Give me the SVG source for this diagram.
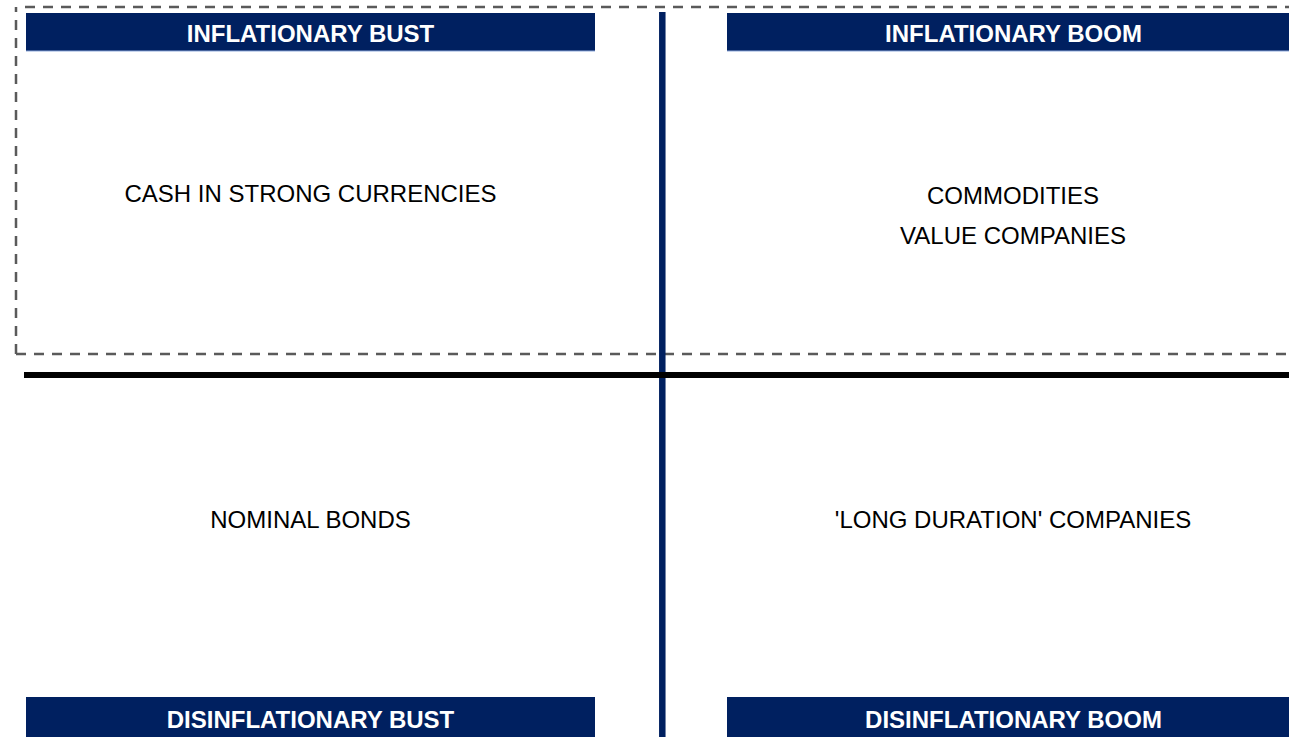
<svg xmlns="http://www.w3.org/2000/svg" width="1289" height="737" viewBox="0 0 1289 737">
  <style>
    .hdr { fill: #002060; }
    .hdr-edge { stroke: #8ea9db; stroke-width: 1; }
    .hdr-text { font-family: "Liberation Sans", Arial, sans-serif; font-weight: bold; font-size: 24px; fill: #ffffff; text-anchor: middle; }
    .body-text { font-family: "Liberation Sans", Arial, sans-serif; font-size: 24px; fill: #000000; text-anchor: middle; }
    .dash { fill: none; stroke: #5a5a5a; stroke-width: 2.5; stroke-dasharray: 10 8; }
  </style>
  <rect width="1289" height="737" fill="#ffffff"/>

  <!-- dashed frame around the inflationary half -->
  <g id="inflation-frame">
    <path class="dash" d="M25 7 H1300"/>
    <path class="dash" d="M16 354 V7"/>
    <path class="dash" d="M16 354 H1300"/>
  </g>

  <!-- quadrant axes -->
  <g id="connectors">
    <line x1="662.3" y1="12" x2="662.3" y2="737" stroke="#002060" stroke-width="6.5"/>
    <line x1="24" y1="375" x2="1289" y2="375" stroke="#000000" stroke-width="6"/>
  </g>

  <g id="inflationary-bust">
    <rect class="hdr" x="26" y="13" width="569" height="38"/>
    <line class="hdr-edge" x1="26" y1="51" x2="595" y2="51"/>
    <text class="hdr-text" x="310.5" y="42">INFLATIONARY BUST</text>
    <text class="body-text" x="310.5" y="202">CASH IN STRONG CURRENCIES</text>
  </g>

  <g id="inflationary-boom">
    <rect class="hdr" x="727" y="13" width="573" height="38"/>
    <line class="hdr-edge" x1="727" y1="51" x2="1300" y2="51"/>
    <text class="hdr-text" x="1013.5" y="42">INFLATIONARY BOOM</text>
    <text class="body-text" x="1013" y="204">COMMODITIES</text>
    <text class="body-text" x="1013" y="244">VALUE COMPANIES</text>
  </g>

  <g id="disinflationary-bust">
    <text class="body-text" x="310.5" y="528">NOMINAL BONDS</text>
    <rect class="hdr" x="26" y="697" width="569" height="40"/>
    <text class="hdr-text" x="310.5" y="728">DISINFLATIONARY BUST</text>
  </g>

  <g id="disinflationary-boom">
    <text class="body-text" x="1013" y="528">'LONG DURATION' COMPANIES</text>
    <rect class="hdr" x="727" y="697" width="573" height="40"/>
    <text class="hdr-text" x="1013.5" y="728">DISINFLATIONARY BOOM</text>
  </g>
</svg>
